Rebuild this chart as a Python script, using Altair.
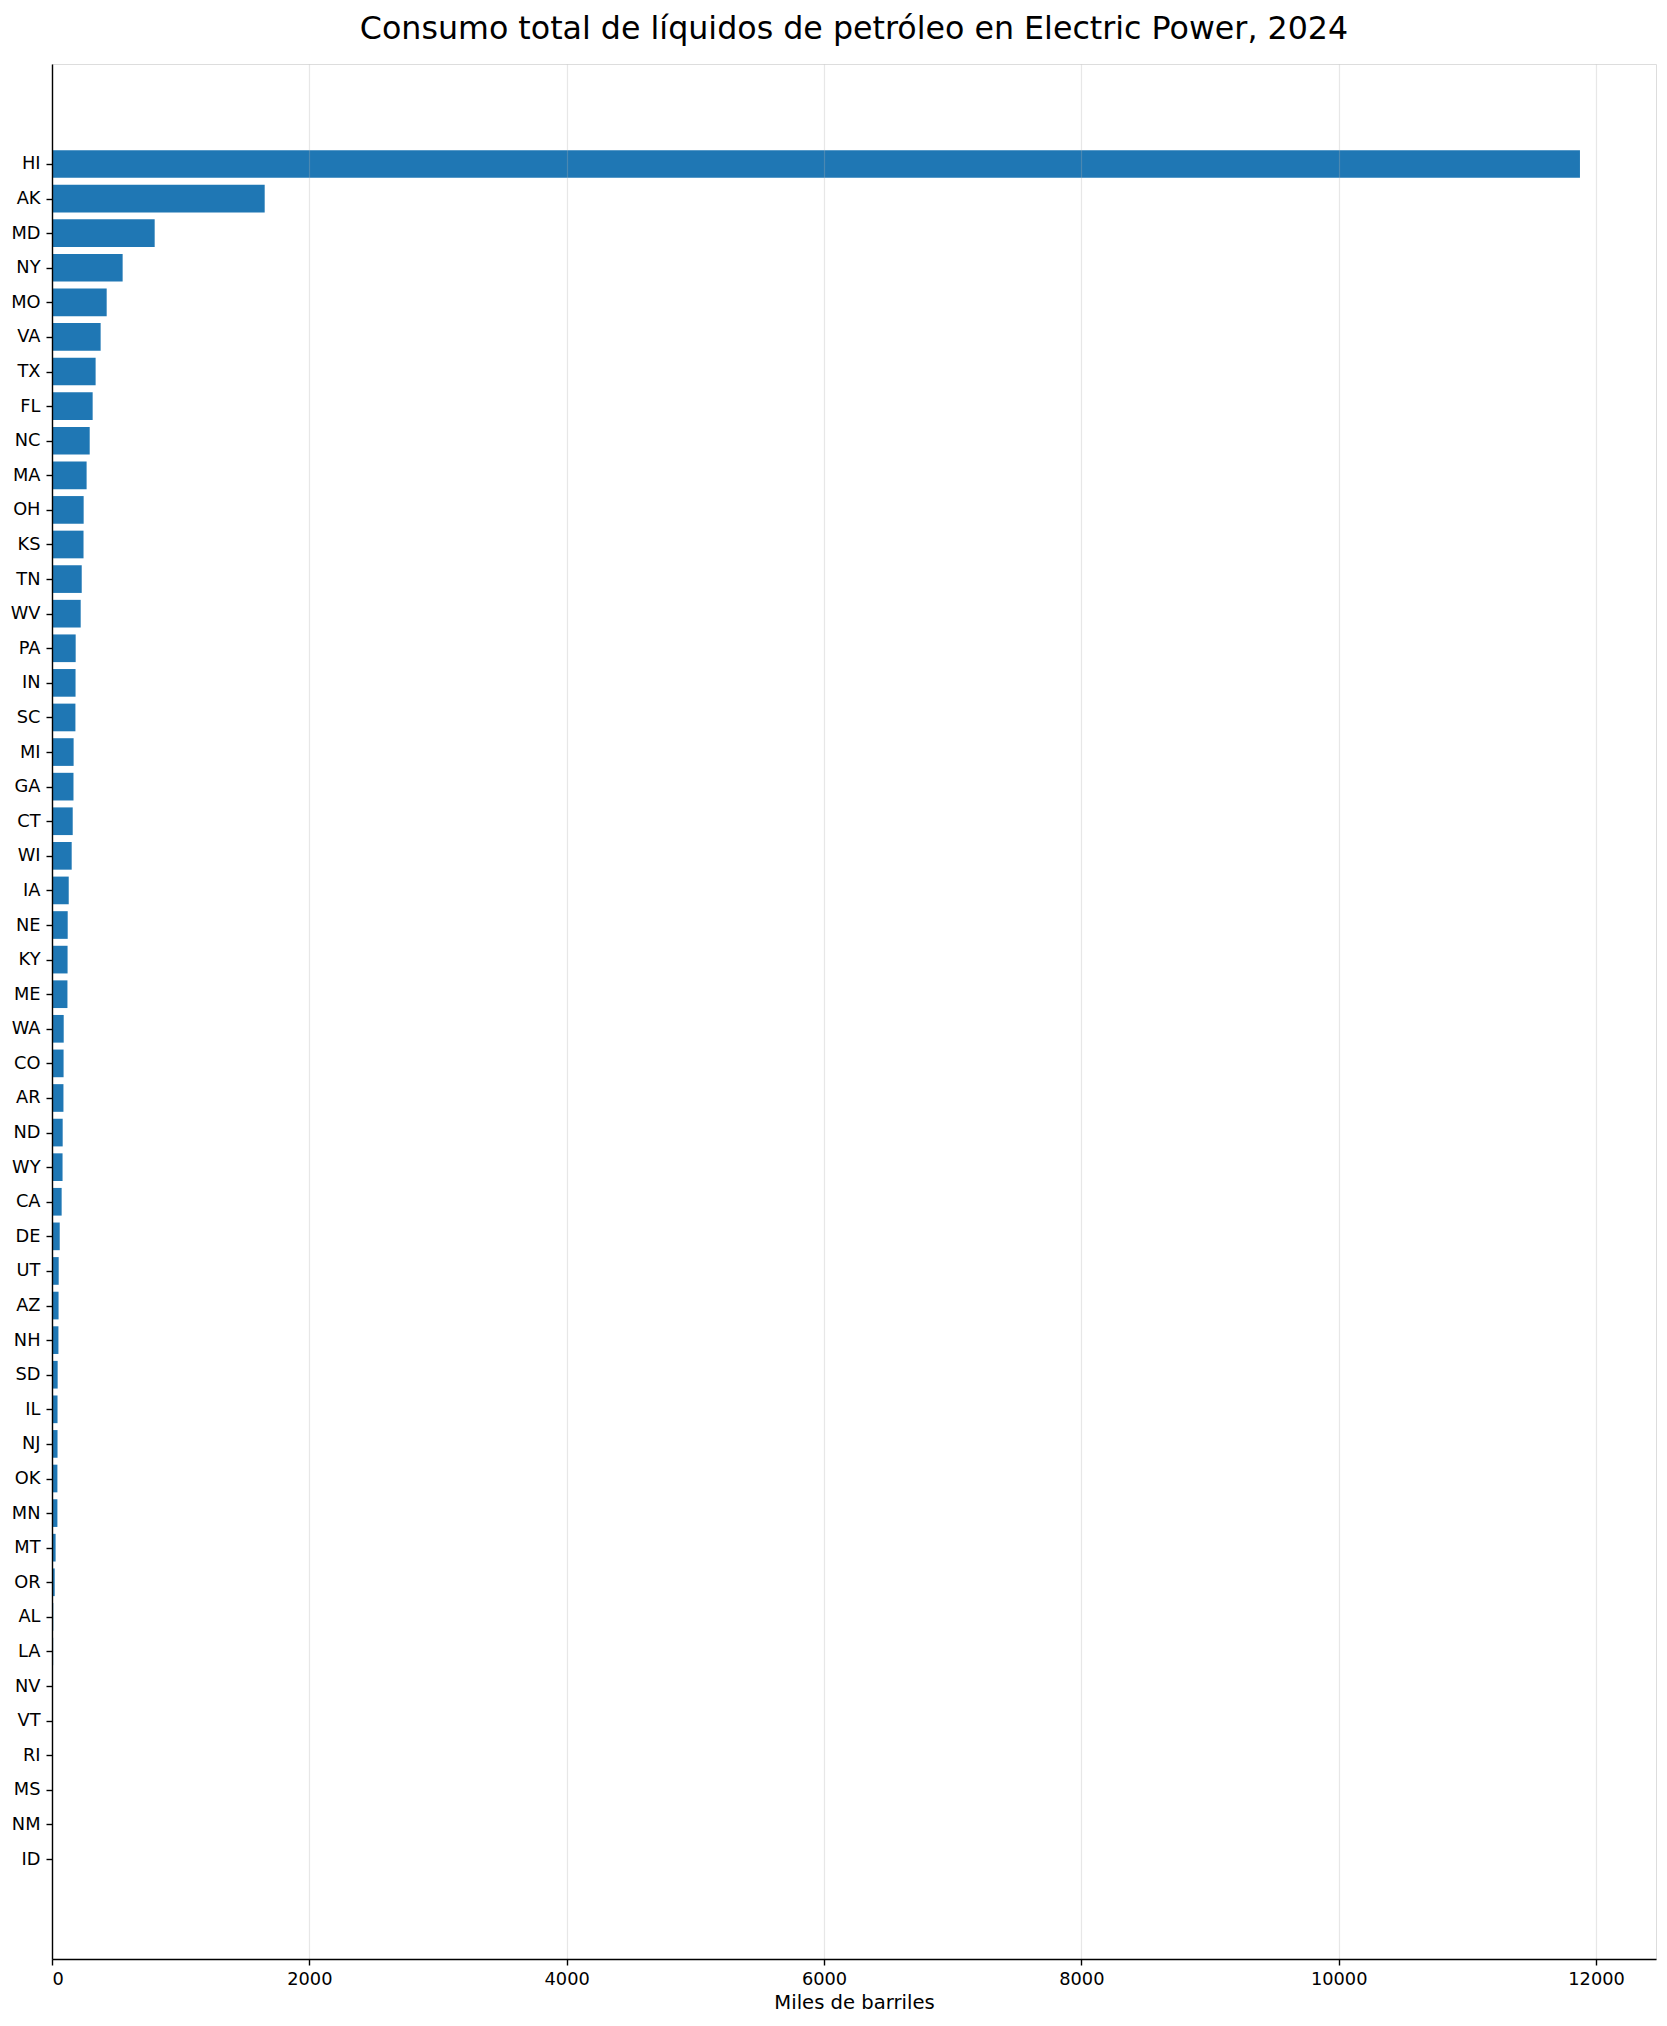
import altair as alt
import pandas as pd

states = ["HI", "AK", "MD", "NY", "MO", "VA", "TX", "FL", "NC", "MA",
          "OH", "KS", "TN", "WV", "PA", "IN", "SC", "MI", "GA", "CT",
          "WI", "IA", "NE", "KY", "ME", "WA", "CO", "AR", "ND", "WY",
          "CA", "DE", "UT", "AZ", "NH", "SD", "IL", "NJ", "OK", "MN",
          "MT", "OR", "AL", "LA", "NV", "VT", "RI", "MS", "NM", "ID"]
values = [11875, 1653, 798, 549, 425, 378, 339, 316, 293, 269,
          246, 245, 231, 223, 184, 183, 182, 168, 167, 161,
          153, 130, 122, 121, 120, 91, 90, 89, 83, 82,
          75, 60, 52, 51, 50, 44, 43, 43, 42, 42,
          28, 21, 10, 9, 3, 2, 1.5, 1, 0.5, 0.2]
x_ticks = [0, 2000, 4000, 6000, 8000, 10000, 12000]

df = pd.DataFrame({"estado": states, "valor": values, "idx": list(range(len(states)))})

FONT = "DejaVu Sans"
label_array = "[" + ",".join("'" + s + "'" for s in states) + "]"

chart = alt.Chart(df).transform_calculate(
    y_lo="datum.idx - 0.4",
    y_hi="datum.idx + 0.4",
).mark_bar(color="#1f77b4").encode(
    x=alt.X(
        "valor:Q",
        scale=alt.Scale(domain=[0, 12466], nice=False, zero=True),
        axis=alt.Axis(
            title="Miles de barriles",
            values=x_ticks,
            format="d",
            grid=True,
            gridColor="#b0b0b0",
            gridOpacity=0.3,
            gridWidth=1.2,
            domain=True,
            domainColor="black",
            domainWidth=1.4,
            ticks=True,
            tickColor="black",
            tickSize=6,
            tickWidth=1.4,
            labelFont=FONT,
            labelFontSize=17.8,
            labelColor="black",
            labelPadding=5,
            titleFont=FONT,
            titleFontSize=19.6,
            titleFontWeight="normal",
            titleColor="black",
            titlePadding=6,
            zindex=1,
        ),
    ),
    x2=alt.datum(0),
    y=alt.Y(
        "y_lo:Q",
        scale=alt.Scale(domain=[-2.89, 51.89], nice=False, zero=False, reverse=True),
        axis=alt.Axis(
            title=None,
            values=list(range(len(states))),
            labelExpr=label_array + "[datum.value]",
            grid=False,
            domain=True,
            domainColor="black",
            domainWidth=1.4,
            ticks=True,
            tickColor="black",
            tickSize=6,
            tickWidth=1.4,
            labelFont=FONT,
            labelFontSize=17.8,
            labelColor="black",
            labelPadding=6,
            labelBaseline="middle",
            zindex=1,
        ),
    ),
    y2="y_hi:Q",
    tooltip=["estado", "valor"],
).properties(
    width=1604,
    height=1895,
    title=alt.TitleParams(
        text="Consumo total de líquidos de petróleo en Electric Power, 2024",
        font=FONT,
        fontSize=31.7,
        fontWeight="normal",
        color="black",
        anchor="middle",
        offset=18,
    ),
    autosize=alt.AutoSizeParams(type="none"),
    padding={"left": 44, "top": 56, "right": 3, "bottom": 59},
).configure_view(
    stroke="black",
    strokeWidth=1.4,
).configure(
    background="white",
)

chart.save("out.html", embed_options={"renderer": "svg", "actions": False})
